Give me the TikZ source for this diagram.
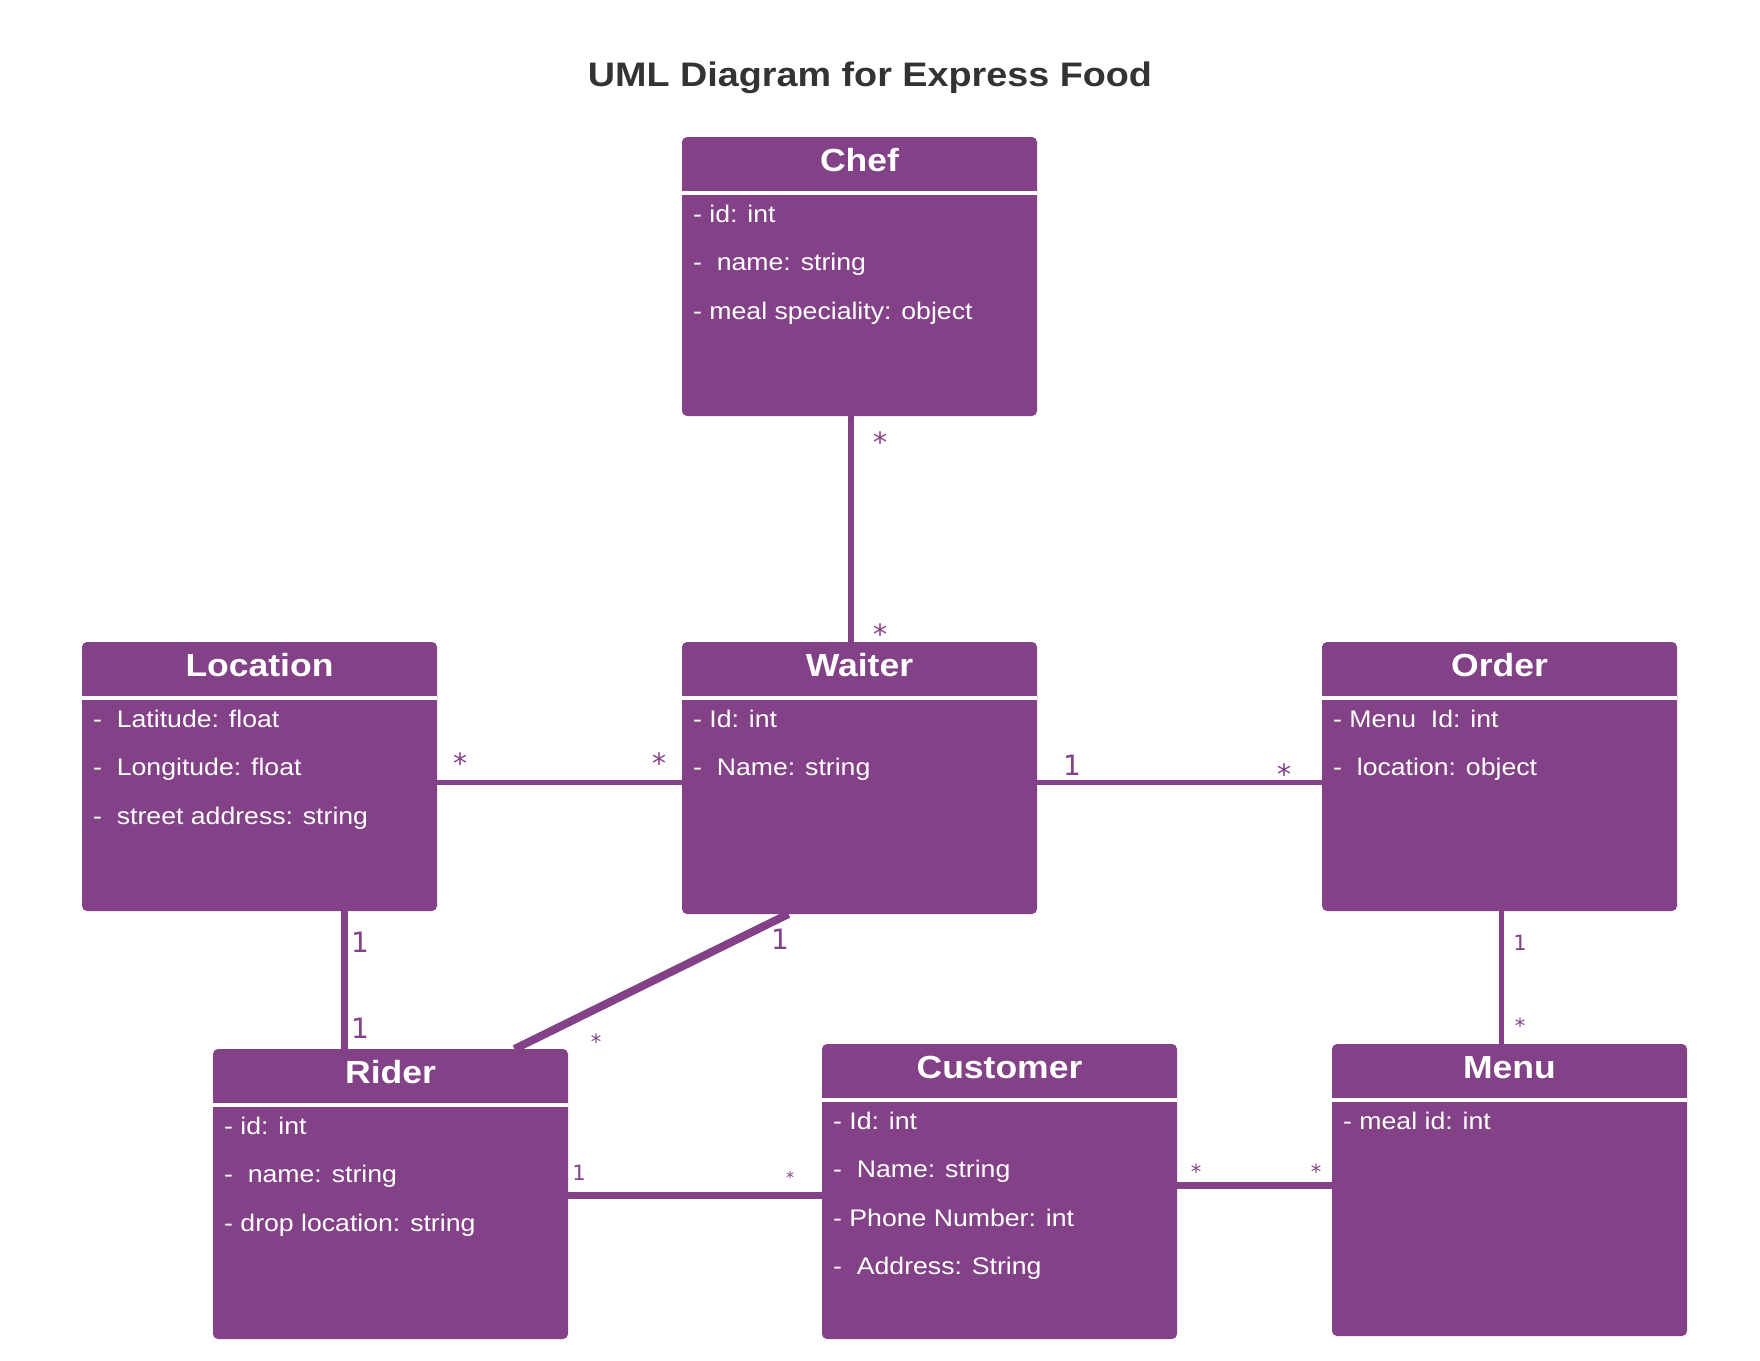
\documentclass[tikz,border=0pt]{standalone}
\usepackage{fontspec}
\setmainfont[FakeStretch=1.11]{Liberation Sans}
\newfontfamily\multfont{DejaVu Sans}
\definecolor{umlpurple}{RGB}{131,65,135}
\definecolor{titlegray}{RGB}{51,51,51}
\tikzset{
  classbox/.style={fill=umlpurple,rounded corners=5,inner sep=0,outer sep=0,anchor=north west,minimum width=355},
  classname/.style={text=white,font=\fontsize{32}{38}\selectfont\bfseries,anchor=base,inner sep=0},
  attr/.style={text=white,font=\fontsize{24}{29}\selectfont,anchor=base west,inner sep=0},
  sepline/.style={draw=white,line width=4},
  assoc/.style={draw=umlpurple,line width=#1},
  assoc/.default=5,
  mult/.style={text=umlpurple,font=\multfont\fontsize{28}{34}\selectfont,anchor=base,inner sep=0},
  multsmall/.style={mult,font=\multfont\fontsize{21}{25}\selectfont},
  multtiny/.style={mult,font=\multfont\fontsize{16}{19}\selectfont},
}
\begin{document}
\begin{tikzpicture}[x=1pt,y=-1pt]
\useasboundingbox[fill=white] (0,0) rectangle (1760,1360);
\node[font=\fontsize{34}{40}\selectfont\bfseries,text=titlegray,anchor=base,inner sep=0] (title) at (870,86) {UML Diagram for Express Food};

% classes
\node[classbox,minimum height=279] (chef) at (682,137) {};
\node[classname] (chefT) at ([yshift=-34]chef.north) {Chef};
\draw[sepline] ([yshift=-56]chef.north west) -- ([yshift=-56]chef.north east);
\foreach \t [count=\i, evaluate=\i as \dy using -85-48.5*(\i-1)] in {- id: int, -\ \ name: string, - meal speciality: object}
  \node[attr] (chef-\i) at ([xshift=11,yshift=\dy]chef.north west) {\t};

\node[classbox,minimum height=272] (waiter) at (682,642) {};
\node[classname] (waiterT) at ([yshift=-34]waiter.north) {Waiter};
\draw[sepline] ([yshift=-56]waiter.north west) -- ([yshift=-56]waiter.north east);
\foreach \t [count=\i, evaluate=\i as \dy using -85-48.5*(\i-1)] in {- Id: int, -\ \ Name: string}
  \node[attr] (waiter-\i) at ([xshift=11,yshift=\dy]waiter.north west) {\t};

\node[classbox,minimum height=269] (location) at (82,642) {};
\node[classname] (locationT) at ([yshift=-34]location.north) {Location};
\draw[sepline] ([yshift=-56]location.north west) -- ([yshift=-56]location.north east);
\foreach \t [count=\i, evaluate=\i as \dy using -85-48.5*(\i-1)] in {-\ \ Latitude: float, -\ \ Longitude: float, -\ \ street address: string}
  \node[attr] (location-\i) at ([xshift=11,yshift=\dy]location.north west) {\t};

\node[classbox,minimum height=269] (order) at (1322,642) {};
\node[classname] (orderT) at ([yshift=-34]order.north) {Order};
\draw[sepline] ([yshift=-56]order.north west) -- ([yshift=-56]order.north east);
\foreach \t [count=\i, evaluate=\i as \dy using -85-48.5*(\i-1)] in {- Menu\ \ Id: int, -\ \ location: object}
  \node[attr] (order-\i) at ([xshift=11,yshift=\dy]order.north west) {\t};

\node[classbox,minimum height=290] (rider) at (213,1049) {};
\node[classname] (riderT) at ([yshift=-34]rider.north) {Rider};
\draw[sepline] ([yshift=-56]rider.north west) -- ([yshift=-56]rider.north east);
\foreach \t [count=\i, evaluate=\i as \dy using -85-48.5*(\i-1)] in {- id: int, -\ \ name: string, - drop location: string}
  \node[attr] (rider-\i) at ([xshift=11,yshift=\dy]rider.north west) {\t};

\node[classbox,minimum height=295] (customer) at (822,1044) {};
\node[classname] (customerT) at ([yshift=-34]customer.north) {Customer};
\draw[sepline] ([yshift=-56]customer.north west) -- ([yshift=-56]customer.north east);
\foreach \t [count=\i, evaluate=\i as \dy using -85-48.5*(\i-1)] in {- Id: int, -\ \ Name: string, - Phone Number: int, -\ \ Address: String}
  \node[attr] (customer-\i) at ([xshift=11,yshift=\dy]customer.north west) {\t};

\node[classbox,minimum height=292] (menu) at (1332,1044) {};
\node[classname] (menuT) at ([yshift=-34]menu.north) {Menu};
\draw[sepline] ([yshift=-56]menu.north west) -- ([yshift=-56]menu.north east);
\node[attr] (menu-1) at ([xshift=11,yshift=-85]menu.north west) {- meal id: int};

% associations
\draw[assoc=6] ([xshift=-8.5]chef.south) coordinate (cw) -- (cw |- waiter.north);
\draw[assoc] ([yshift=-6]location.east) coordinate (lw) -- (lw -| waiter.west);
\draw[assoc] ([yshift=-4]waiter.east) coordinate (wo) -- (wo -| order.west);
\draw[assoc=7] ([xshift=85]location.south) coordinate (lr) -- (lr |- rider.north);
\draw[assoc=8] ([xshift=-71]waiter.south) -- ([xshift=124]rider.north);
\draw[assoc] ([xshift=2]order.south) coordinate (om) -- (om |- menu.north);
\draw[assoc=7] ([yshift=-1.5]rider.east) coordinate (rc) -- (rc -| customer.west);
\draw[assoc=7] ([yshift=6]customer.east) coordinate (cm) -- (cm -| menu.west);

% multiplicities
\node[mult] (cw-1) at (880,452) {*};
\node[mult] (cw-2) at (880,644) {*};
\node[mult] (lw-1) at (460,773) {*};
\node[mult] (lw-2) at (659,773) {*};
\node[mult] (wo-1) at (1072,775) {1};
\node[mult] (wo-2) at (1284,784) {*};
\node[mult] (lr-1) at (360,952) {1};
\node[mult] (lr-2) at (360,1038) {1};
\node[mult] (wr-1) at (780,949) {1};
\node[multsmall] (wr-2) at (596,1049) {*};
\node[multsmall] (om-1) at (1520,950) {1};
\node[multsmall] (om-2) at (1520,1033) {*};
\node[multsmall] (rc-1) at (579,1180) {1};
\node[multtiny] (rc-2) at (790,1183) {*};
\node[multsmall] (cm-1) at (1196,1179) {*};
\node[multsmall] (cm-2) at (1316,1179) {*};
\end{tikzpicture}
\end{document}
